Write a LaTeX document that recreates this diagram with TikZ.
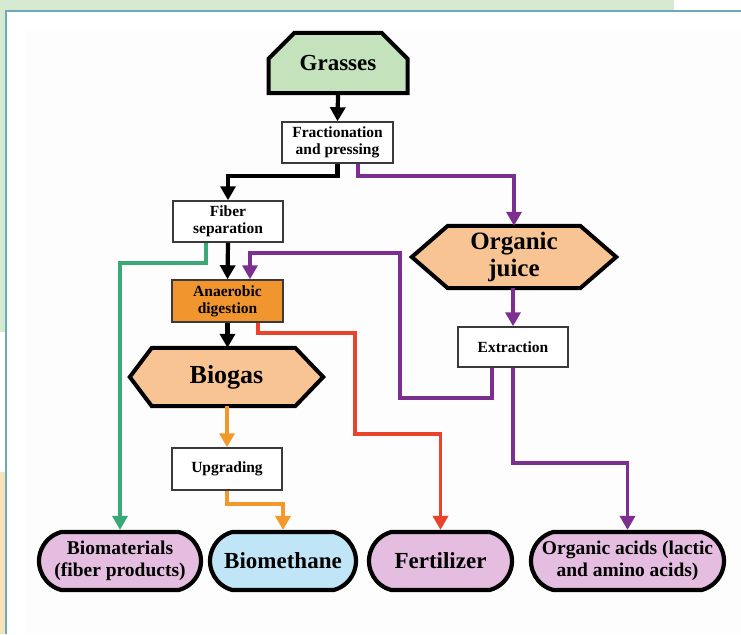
\documentclass[tikz,border=0pt]{standalone}
\usepackage{fontspec}
\setmainfont{Liberation Serif}
\usetikzlibrary{arrows.meta,shapes.misc,backgrounds}

\definecolor{grassfill}{HTML}{C4E3BD}
\definecolor{hexfill}{HTML}{F9C494}
\definecolor{anafill}{HTML}{F1962F}
\definecolor{pinkfill}{HTML}{E4BDE0}
\definecolor{cyanfill}{HTML}{BFE5F7}
\definecolor{greenline}{HTML}{3BA877}
\definecolor{purpline}{HTML}{7D2F90}
\definecolor{redline}{HTML}{E9432B}
\definecolor{orangeline}{HTML}{F4982B}
\definecolor{framecol}{HTML}{6CA9BA}
\definecolor{bandgreen}{HTML}{D6E9D1}
\definecolor{bandpeach}{HTML}{FAE3B9}
\definecolor{boxline}{HTML}{3A3A3A}

\begin{document}
\begin{tikzpicture}[x=1pt,y=-1pt,
  procbox/.style={draw=boxline, line width=1.5pt, fill=white,
    minimum width=111pt, minimum height=41pt, inner sep=1pt, align=center,
    font=\fontsize{15.5}{17}\selectfont\bfseries},
  grassbox/.style={chamfered rectangle,
    chamfered rectangle corners={north west,north east},
    chamfered rectangle xsep=15pt, chamfered rectangle ysep=17pt,
    draw=black, line width=4pt, fill=grassfill,
    minimum width=139pt, minimum height=60pt, inner sep=1pt,
    font=\fontsize{23}{25}\selectfont\bfseries},
  hextext/.style={inner sep=0pt, align=center,
    font=\fontsize{25}{27}\selectfont\bfseries},
  hexshape/.style={draw=black, line width=4pt, fill=hexfill, line join=miter},
  pill/.style={rounded rectangle, rounded rectangle arc length=150,
    draw=black, line width=4.2pt, minimum height=58pt, inner sep=2pt,
    align=center, font=\fontsize{19.5}{22}\selectfont\bfseries},
  flow/.style={line width=3.8pt, -{Triangle[width=15pt,length=14pt]}},
  blackflow/.style={flow, draw=black, line width=4.2pt},
]
\useasboundingbox (0,0) rectangle (741,634);

% page frame and side bands
\begin{scope}[on background layer]
  \fill[white] (0,0) rectangle (741,634);
  \fill[bandgreen] (0,0) rectangle (674,10);
  \fill[bandgreen] (0,0) rectangle (6,332);
  \fill[bandpeach] (0,472) rectangle (6,634);
  \fill[black!0.8] (25,30) rectangle (741,634);
  \draw[framecol, line width=2.2pt] (6,634) -- (6,11) -- (741,11);
\end{scope}

% process nodes
\node[grassbox] (grass) at (338,63) {Grasses};
\node[procbox] (frac) at (337.5,142.5) {Fractionation\\and pressing};
\node[procbox, minimum width=110pt] (fiber) at (228,221.5) {Fiber\\separation};
\node[procbox, fill=anafill, minimum height=42pt] (anaer) at (227.5,301) {Anaerobic\\digestion};
\node[hextext, minimum width=193pt, minimum height=58pt,
      font=\fontsize{26}{28}\selectfont\bfseries] (biogas) at (226.5,377) {Biogas};
\node[procbox, minimum width=110pt, minimum height=42pt] (upg) at (227,469) {Upgrading};
\node[hextext, minimum width=204pt, minimum height=62pt] (juice) at (514,257) {Organic\\juice};
\node[procbox, minimum width=110pt, minimum height=40pt] (extr) at (513,347) {Extraction};

% products
\node[pill, fill=pinkfill, minimum width=166pt] (biomat) at (120,561) {Biomaterials\\(fiber products)};
\node[pill, fill=cyanfill, minimum width=150pt,
      font=\fontsize{23}{25}\selectfont\bfseries] (biometh) at (283,561) {Biomethane};
\node[pill, fill=pinkfill, minimum width=147pt,
      font=\fontsize{23}{25}\selectfont\bfseries] (fert) at (440.5,561) {Fertilizer};
\node[pill, fill=pinkfill, minimum width=197pt] (acids) at (627.5,561) {Organic acids (lactic\\and amino acids)};

% hexagon outlines behind their labels
\begin{scope}[on background layer]
  \draw[hexshape] (biogas.west) -- ([xshift=22pt]biogas.north west)
    -- ([xshift=-28pt]biogas.north east) -- (biogas.east)
    -- ([xshift=-28pt]biogas.south east) -- ([xshift=22pt]biogas.south west) -- cycle;
  \draw[hexshape] (juice.west) -- ([xshift=36pt]juice.north west)
    -- ([xshift=-36pt]juice.north east) -- (juice.east)
    -- ([xshift=-36pt]juice.south east) -- ([xshift=36pt]juice.south west) -- cycle;
\end{scope}

% connectors
\draw[blackflow] (grass.south) -- (frac.north);
\draw[blackflow] (frac.south) -- ++(0,12.5) -| (fiber.north);
\draw[flow, purpline] ([xshift=20.5pt]frac.south) -- ++(0,12.5) -| (juice.north);
\draw[flow, greenline] ([xshift=-22pt]fiber.south) -- ++(0,20) -| (biomat.north);
\draw[blackflow] (fiber.south) -- (anaer.north);
\draw[flow, purpline] ([xshift=-21pt]extr.south) |- (400,398) |- (250,253)
  -- ([xshift=22.5pt]anaer.north);
\draw[blackflow] (anaer.south) -- (biogas.north -| anaer.south);
\draw[flow, redline] ([xshift=30.5pt]anaer.south) -- ++(0,10) -| (355,434) -| (fert.north);
\draw[flow, orangeline] (upg.north |- biogas.south) -- (upg.north);
\draw[flow, orangeline] (upg.south) -- ++(0,13) -| (biometh.north);
\draw[flow, purpline] (extr.north |- juice.south) -- (extr.north);
\draw[flow, purpline] (extr.south) -- ++(0,95) -| (acids.north);
\end{tikzpicture}
\end{document}
